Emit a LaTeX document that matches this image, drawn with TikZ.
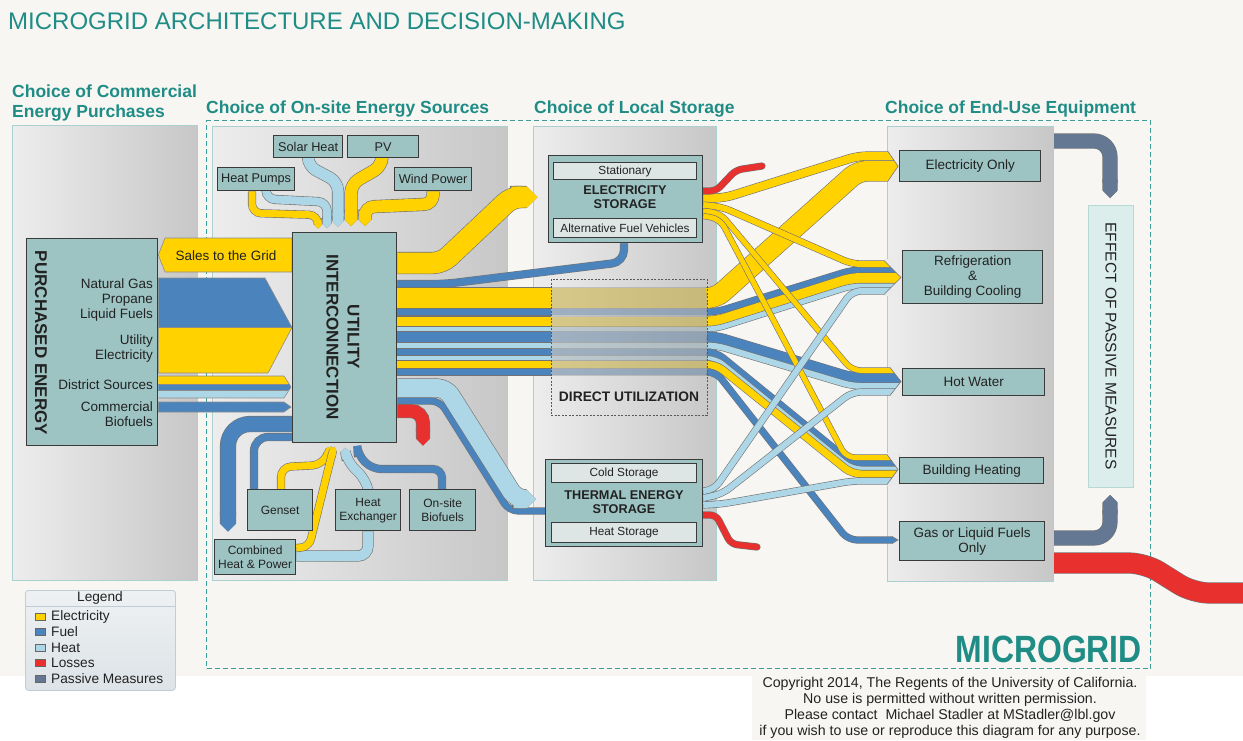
\documentclass[tikz,border=0pt]{standalone}
\usepackage{fontspec}
\setmainfont{Liberation Sans}
\usepackage{graphicx}
\usetikzlibrary{calc,arrows.meta}
\pgfdeclarelayer{bg}
\pgfdeclarelayer{flows}
\pgfsetlayers{bg,flows,main}
\definecolor{bgc}{HTML}{F7F6F2}
\definecolor{mgteal}{HTML}{1F8C86}
\definecolor{dashteal}{HTML}{3E9D97}
\definecolor{elec}{HTML}{FFD200}
\definecolor{fuel}{HTML}{4B84BD}
\definecolor{heat}{HTML}{ADD7E7}
\definecolor{loss}{HTML}{E8302F}
\definecolor{passive}{HTML}{647893}
\definecolor{boxfill}{HTML}{9DC4C3}
\definecolor{boxline}{HTML}{3A3A3A}
\definecolor{innerfill}{HTML}{DEE5E5}
\definecolor{panelline}{HTML}{AAD1CF}
\definecolor{panelL}{HTML}{EDEDED}
\definecolor{panelC}{HTML}{EAEAEA}
\definecolor{panelR}{HTML}{C7C7C7}
\definecolor{epmfill}{HTML}{DCEEEB}
\definecolor{epmline}{HTML}{B7D9D5}
\definecolor{txt}{HTML}{222222}
\definecolor{legtop}{HTML}{EEF1F3}
\definecolor{legbot}{HTML}{DDE3E7}
\definecolor{legline}{HTML}{C3CCD2}

\newcommand\flw[4][]{%
  \draw[flowedge, line width=#3pt+1.2pt, #1] #4;
  \draw[draw=#2, line width=#3pt, flowbody, #1] #4;}
\newcommand\flwt[4][]{%
  \draw[flowedge, line width=#3pt+1.2pt, -{Triangle Cap}, shorten >=#3pt/2, #1] #4;
  \draw[draw=#2, line width=#3pt, flowbody, -{Triangle Cap}, shorten >=#3pt/2, #1] #4;}
\newcommand\stripe[4]{%
  \flw{#1}{#2}{(ui.east |- 0,#3) -- (551,#3)}
  \flw[opacity=0.3]{#1}{#2}{(551,#3) -- (707,#3)}
  \flw{#1}{#2}{(707,#3) #4}}
% chevron end of a bundle at the left side of an end-use box
% #1 box, #2 corner x, #3 tip x, #4 top y, #5 bottom y
\newcommand\chev[5]{%
  \fill[panelC] (#2,#4-1.5) -- (#1.west |- 0,#4-1.5) -- (#1.west |- 0,{(#4+#5)/2}) -- (#3,{(#4+#5)/2}) -- (#2,#4) -- cycle;
  \fill[panelC] (#2,#5+1.5) -- (#1.west |- 0,#5+1.5) -- (#1.west |- 0,{(#4+#5)/2}) -- (#3,{(#4+#5)/2}) -- (#2,#5) -- cycle;
  \draw[black!55, line width=0.6pt, line join=miter] (#2,#4) -- (#3,{(#4+#5)/2}) -- (#2,#5);}

\begin{document}
\begin{tikzpicture}[x=1pt,y=-1pt,
  box/.style={draw=boxline, line width=1.3pt, fill=boxfill, text=txt, align=center, inner sep=1pt, anchor=north west, font=\fontsize{13.5}{15}\selectfont},
  sbox/.style={box, font=\fontsize{12.7}{14}\selectfont},
  bbox/.style={box, font=\fontsize{12}{14}\selectfont},
  ibox/.style={draw=boxline, line width=1.1pt, fill=innerfill, text=txt, inner sep=0pt, anchor=north west, font=\fontsize{11.8}{13}\selectfont},
  panel/.style={draw=panelline, line width=1pt, left color=panelL, right color=panelR, inner sep=0pt, anchor=north west},
  heading/.style={font=\bfseries\fontsize{17.5}{20}\selectfont, text=mgteal, inner sep=0pt, anchor=base west},
  lbl/.style={font=\fontsize{13.5}{15}\selectfont, text=txt, inner sep=1pt},
  btitle/.style={font=\bfseries\fontsize{12.7}{14.5}\selectfont, text=txt, align=center, inner sep=0pt},
  flowedge/.style={draw=black!55, rounded corners=9pt},
  flowbody/.style={rounded corners=9pt},
  bandedge/.style={draw=black!45, line width=0.6pt},
  swatch/.style={draw=black!60, line width=0.6pt, minimum width=10pt, minimum height=7pt, inner sep=0pt},
  legtext/.style={font=\fontsize{13.7}{15}\selectfont, text=txt, anchor=west, inner sep=0pt}
]
\useasboundingbox (0,0) rectangle (1243,740);

% ---------------- background layer
\begin{pgfonlayer}{bg}
\fill[white] (0,0) rectangle (1243,740);
\fill[bgc] (0,0) rectangle (1243,676);
\fill[bgc] (752,676) rectangle (1146,740);
\node[panel, minimum width=185, minimum height=455] (p1) at (12,125) {};
\node[panel, minimum width=295, minimum height=454] (p2) at (212,126) {};
\node[panel, minimum width=183, minimum height=454] (p3) at (533,126) {};
\node[panel, minimum width=166, minimum height=455] (p4) at (887,126) {};
\node[draw=dashteal, line width=1.4pt, dash pattern=on 5pt off 3pt, minimum width=944, minimum height=548, anchor=north west, inner sep=0pt] (mgb) at (206,120) {};
\end{pgfonlayer}

% ---------------- titles
\node[anchor=base west, inner sep=0pt, font=\fontsize{24}{26}\selectfont, text=mgteal] (title) at (8,29) {MICROGRID ARCHITECTURE AND DECISION-MAKING};
\node[heading] (h1a) at (12,97) {Choice of Commercial};
\node[heading] (h1b) at (12,117) {Energy Purchases};
\node[heading] (h2) at (206,113) {Choice of On-site Energy Sources};
\node[heading] (h3) at (534,113) {Choice of Local Storage};
\node[heading] (h4) at (885,113) {Choice of End-Use Equipment};

% ---------------- purchased energy
\node[box, minimum width=131, minimum height=207] (pe) at (26,238) {};
\node[rotate=-90, font=\bfseries\fontsize{17}{19}\selectfont, text=txt, inner sep=0pt] (pelbl) at (41,343) {PURCHASED ENERGY};
\node[lbl, anchor=east, align=right] (ng) at (154,300) {Natural Gas\\Propane\\Liquid Fuels};
\node[lbl, anchor=east, align=right] (ue) at (154,349) {Utility\\Electricity};
\node[lbl, anchor=east] (ds) at (154,385) {District Sources};
\node[lbl, anchor=east, align=right] (cb) at (154,414) {Commercial\\Biofuels};

% ---------------- utility interconnection and on-site sources
\node[box, minimum width=104, minimum height=210] (ui) at (292,232) {};
\node[rotate=-90, font=\bfseries\fontsize{17}{21}\selectfont, text=txt, align=center, inner sep=0pt] (uilbl) at (343,337) {UTILITY\\INTERCONNECTION};
\node[lbl] (sales) at (226,256) {Sales to the Grid};
\node[sbox, minimum width=69, minimum height=22] (sh) at (273,135) {Solar Heat};
\node[sbox, minimum width=71, minimum height=22] (pv) at (347,135) {PV};
\node[sbox, minimum width=77, minimum height=23] (hp) at (217,167) {Heat Pumps};
\node[sbox, minimum width=77, minimum height=23] (wp) at (394,167) {Wind Power};
\node[bbox, minimum width=65, minimum height=41] (gen) at (247,489) {Genset};
\node[bbox, minimum width=65, minimum height=41] (he) at (335,489) {Heat\\Exchanger};
\node[bbox, minimum width=66, minimum height=41] (obf) at (409,489) {On-site\\Biofuels};
\node[bbox, minimum width=81, minimum height=35] (chp) at (214,539) {Combined\\Heat \& Power};

% ---------------- storage
\node[box, minimum width=154, minimum height=87] (es) at (548,155) {};
\node[ibox, minimum width=143, minimum height=17] (stat) at (553,162) {Stationary};
\node[btitle] (eslbl) at (625,197) {ELECTRICITY\\STORAGE};
\node[ibox, minimum width=143, minimum height=19] (afv) at (553,218) {Alternative Fuel Vehicles};
\node[box, minimum width=157, minimum height=87] (tes) at (545,459) {};
\node[ibox, minimum width=145, minimum height=19] (cold) at (551,463) {Cold Storage};
\node[btitle] (teslbl) at (624,502) {THERMAL ENERGY\\STORAGE};
\node[ibox, minimum width=145, minimum height=20] (hst) at (551,522) {Heat Storage};
\node[draw=black!65, line width=0.9pt, dash pattern=on 2pt off 1.5pt, minimum width=156, minimum height=136, anchor=north west, inner sep=0pt] (du) at (551,279) {};
\node[font=\bfseries\fontsize{13.8}{15}\selectfont, text=txt, inner sep=0pt] (dulbl) at (629,397) {DIRECT UTILIZATION};

% ---------------- end use
\node[box, minimum width=141, minimum height=31] (eonly) at (899,150) {Electricity Only};
\node[box, minimum width=140, minimum height=53] (refr) at (902,250) {Refrigeration\\\&\\Building Cooling};
\node[box, minimum width=142, minimum height=27] (hw) at (902,368) {Hot Water};
\node[box, minimum width=144, minimum height=26] (bh) at (899,457) {Building Heating};
\node[box, minimum width=145, minimum height=39] (gas) at (899,521) {Gas or Liquid Fuels\\Only};
\node[draw=epmline, line width=1pt, fill=epmfill, minimum width=45, minimum height=282, anchor=north west, inner sep=0pt] (epm) at (1088,205) {};
\node[rotate=-90, font=\fontsize{15.5}{17}\selectfont, text=txt, inner sep=0pt] (epmlbl) at (1111,346) {EFFECT OF PASSIVE MEASURES};

% ---------------- legend, copyright
\node[draw=legline, line width=0.8pt, top color=legtop, bottom color=legbot, rounded corners=3pt, minimum width=150, minimum height=100, anchor=north west] (leg) at (25,590) {};
\node[font=\fontsize{13.7}{15}\selectfont, text=txt, inner sep=0pt] (legt) at (100,598) {Legend};
\draw[legline, line width=0.8pt] (leg.west |- 0,606) -- (leg.east |- 0,606);
\node[swatch, fill=elec] (sw1) at (40,617) {};
\node[legtext] (lt1) at (51,617) {Electricity};
\node[swatch, fill=fuel] (sw2) at (40,632) {};
\node[legtext] (lt2) at (51,632) {Fuel};
\node[swatch, fill=heat] (sw3) at (40,648) {};
\node[legtext] (lt3) at (51,648) {Heat};
\node[swatch, fill=loss] (sw4) at (40,663) {};
\node[legtext] (lt4) at (51,663) {Losses};
\node[swatch, fill=passive] (sw5) at (40,679) {};
\node[legtext] (lt5) at (51,679) {Passive Measures};

\node[align=center, font=\fontsize{14.2}{16.2}\selectfont, text=txt, inner sep=0pt] (copy) at (950,708) {Copyright 2014, The Regents of the University of California.\\No use is permitted without written permission.\\Please contact~ Michael Stadler at MStadler@lbl.gov\\if you wish to use or reproduce this diagram for any purpose.};
\node[anchor=base east, inner sep=0pt, font=\bfseries\fontsize{38}{40}\selectfont, text=mgteal] (mg) at (1142,662) {\scalebox{0.84}[1]{MICROGRID}};

% ================= flows
\begin{pgfonlayer}{flows}
% purchased energy to utility interconnection
\filldraw[fill=elec, bandedge] (ui.west |- 0,238) -- (165,238) -- (pe.east |- 0,255) -- (165,272) -- (ui.west |- 0,272) -- cycle;
\filldraw[fill=fuel, bandedge] (pe.east |- 0,278) -- (265,278) -- (ui.west |- 0,327.5) -- (pe.east |- 0,327.5) -- cycle;
\filldraw[fill=elec, bandedge] (pe.east |- 0,327.5) -- (ui.west |- 0,327.5) -- (268,373) -- (pe.east |- 0,373) -- cycle;
\begin{scope}
\clip (pe.east |- 0,376) -- (284,376) -- (291,387) -- (284,398) -- (pe.east |- 0,398) -- cycle;
\fill[elec] (150,376) rectangle (300,384);
\fill[fuel] (150,384) rectangle (300,390);
\fill[heat] (150,390) rectangle (300,398);
\end{scope}
\draw[bandedge] (pe.east |- 0,376) -- (284,376) -- (291,387) -- (284,398) -- (pe.east |- 0,398);
\draw[bandedge] (pe.east |- 0,384) -- (288,384) (pe.east |- 0,390) -- (288,390);
\filldraw[fill=fuel, bandedge] (pe.east |- 0,402) -- (284,402) -- (291,407) -- (284,412) -- (pe.east |- 0,412) -- cycle;

% on-site sources into UI (top)
\flwt{elec}{7}{(hp.south -| 252,0) -- (252,213) -- (318,215) -- (ui.north -| 318,0)}
\flwt{heat}{8}{(hp.south -| 266,0) -- (266,199) -- (327,202) -- (ui.north -| 327,0)}
\flwt{heat}{11}{(sh.south -| 308,0) -- (308,166) -- (338,182) -- (ui.north -| 338,0)}
\flwt{elec}{12}{(pv.south -| 382,0) -- (382,166) -- (351,184) -- (ui.north -| 351,0)}
\flwt{elec}{12}{(wp.south -| 433,0) -- (433,204) -- (365,207) -- (ui.north -| 365,0)}

% bottom of UI
\flwt[rounded corners=22pt]{fuel}{15}{(ui.west |- 0,424) -- (228,424) -- (chp.north -| 228,0)}
\flw[rounded corners=14pt]{fuel}{7}{(ui.west |- 0,437) -- (254,437) -- (gen.north -| 254,0)}
\flw[rounded corners=10pt]{heat}{10}{(he.south -| 368,0) -- (368,556) -- (chp.east |- 0,556)}
\flwt[rounded corners=10pt]{elec}{7}{(gen.north -| 281,0) -- (281,467) -- (322,465) -- (ui.south -| 333,0)}
\flwt[rounded corners=8pt]{elec}{7}{(chp.east |- 0,548) -- (309,547) -- (330,462) -- (ui.south -| 335,0)}
\flwt[rounded corners=10pt]{heat}{9}{(he.north -| 368,0) -- (366,480) -- (347,461) -- (ui.south -| 344,0)}
\flwt[rounded corners=9pt]{fuel}{7}{(obf.north -| 442,0) -- (442,469) -- (372,469) -- (358,455) -- (ui.south -| 357,0)}

% UI right side
\flwt{elec}{21}{(ui.east |- 0,263) -- (442,263) -- (512,197) -- (es.west |- 0,197)}
\flw[rounded corners=12pt]{fuel}{7}{(ui.east |- 0,284) -- (445,284) -- (624,262) -- (es.south -| 624,0)}
\flw{fuel}{6}{(ui.east |- 0,401) -- (440,401) -- (509,511) -- (tes.west |- 0,511)}
\flwt{heat}{18}{(ui.east |- 0,388) -- (446,388) -- (516,499) -- (tes.west |- 0,499)}
\flwt[rounded corners=12pt]{loss}{13}{(ui.east |- 0,411) -- (423,411) -- (423,452)}

% bundle through direct utilization
\stripe{elec}{20}{298}{-- (716,298) -- (858,171) -- (eonly.west |- 0,171)}
\stripe{fuel}{6}{312}{-- (716,312) -- (852,270) -- (refr.west |- 0,270)}
\stripe{elec}{10}{321.5}{-- (716,321.5) -- (852,278) -- (refr.west |- 0,278)}
\stripe{heat}{5}{329}{-- (716,329) -- (852,286) -- (refr.west |- 0,286)}
\stripe{fuel}{10}{337}{-- (716,337) -- (852,378) -- (hw.west |- 0,378)}
\stripe{heat}{6}{345.5}{-- (716,345.5) -- (852,386) -- (hw.west |- 0,386)}
\stripe{fuel}{6}{352}{-- (716,352) -- (852,463) -- (bh.west |- 0,463)}
\stripe{heat}{4}{358}{-- (716,358) -- (852,468.5) -- (bh.west |- 0,468.5)}
\stripe{elec}{7}{364.5}{-- (716,364.5) -- (852,474) -- (bh.west |- 0,474)}
\stripe{fuel}{6}{372}{-- (716,372) -- (848,540) -- (gas.west |- 0,540)}

% electricity storage outputs
\flw{elec}{8}{(es.east |- 0,198) -- (724,198) -- (858,156) -- (eonly.west |- 0,156)}
\flw{elec}{6}{(es.east |- 0,205) -- (722,207) -- (852,264) -- (refr.west |- 0,264)}
\flw{elec}{5}{(es.east |- 0,211) -- (720,213) -- (852,370.5) -- (hw.west |- 0,370.5)}
\flw{elec}{5}{(es.east |- 0,216) -- (720,219) -- (846,457.5) -- (bh.west |- 0,457.5)}

% thermal storage outputs
\flw{heat}{6}{(tes.east |- 0,491) -- (714,490) -- (852,291) -- (refr.west |- 0,291)}
\flw{heat}{6}{(tes.east |- 0,498) -- (722,494) -- (852,392) -- (hw.west |- 0,392)}
\flw{heat}{6}{(tes.east |- 0,505) -- (722,504) -- (852,481) -- (bh.west |- 0,481)}

% pointed ends into the end-use boxes
\chev{eonly}{888}{898}{151.5}{181}
\chev{refr}{884}{901}{260.5}{294.5}
\chev{hw}{890}{901}{367.5}{395.5}
\chev{bh}{887}{898}{454.5}{484.5}
\chev{gas}{892}{898}{536.4}{543.6}

% storage losses
\flw[rounded corners=6pt, line cap=round]{loss}{6}{(es.east |- 0,191) -- (716,191) -- (736,170) -- (762,166)}
\flw[rounded corners=6pt, line cap=round]{loss}{6}{(tes.east |- 0,515) -- (716,515) -- (731,544) -- (757,547)}

% passive measures and end-use losses
\flwt[rounded corners=16pt]{passive}{14}{(p4.east |- 0,141) -- (1110,141) -- (epm.north -| 1110,0)}
\flwt[rounded corners=16pt]{passive}{14}{(p4.east |- 0,538) -- (1110,538) -- (epm.south -| 1110,0)}
\flw[rounded corners=16pt]{loss}{20}{(p4.east |- 0,563) -- (1145,563) -- (1193,593) -- (1252,593)}
\end{pgfonlayer}
\end{tikzpicture}
\end{document}
